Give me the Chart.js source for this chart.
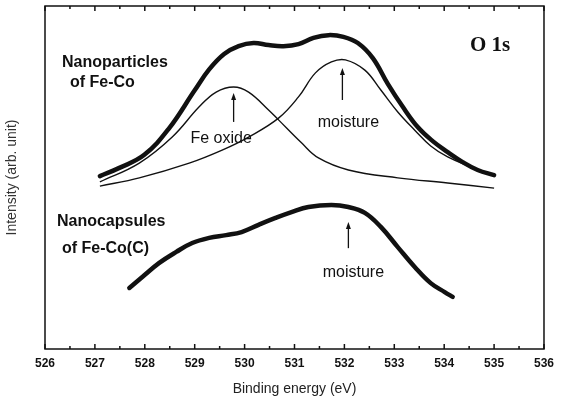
<!DOCTYPE html>
<html>
<head>
<meta charset="utf-8">
<script src="https://cdn.jsdelivr.net/npm/chart.js@4.4.1/dist/chart.umd.min.js"></script>
<style>
  html, body { margin: 0; padding: 0; background: #fff; }
  #wrap { width: 561px; height: 404px; }
</style>
</head>
<body>
<div id="wrap"><canvas id="chart" width="561" height="404"></canvas></div>
<script>
// binding energy (eV) and intensity (arb. unit, 0-100)
const xTicks = [526, 527, 528, 529, 530, 531, 532, 533, 534, 535, 536];

const totalEnergy = [527.10, 527.49, 527.99, 528.49, 528.99, 529.29, 529.59, 529.88, 530.18, 530.48, 530.78, 531.08, 531.38, 531.68, 531.98, 532.27, 532.57, 532.87, 533.17, 533.47, 533.77, 534.07, 534.37, 534.67, 535.00];
const totalIntensity = [50.4, 52.8, 56.6, 64.4, 75.2, 81.5, 86.0, 88.3, 89.2, 88.6, 88.3, 88.9, 90.7, 91.5, 91.0, 89.2, 84.8, 77.3, 70.6, 64.7, 60.6, 57.4, 54.5, 52.2, 50.7];

const oxideEnergy = [527.10, 527.89, 528.55, 529.09, 529.43, 529.78, 530.08, 530.48, 530.68, 531.14, 531.48, 532.08, 533.07, 534.07, 535.00];
const oxideIntensity = [48.7, 54.2, 61.8, 70.6, 74.9, 76.4, 74.9, 69.7, 66.8, 60.1, 55.7, 52.2, 49.9, 48.4, 46.9];

const moistEnergy = [527.10, 527.89, 528.89, 529.55, 530.08, 530.68, 531.08, 531.42, 531.74, 532.02, 532.41, 532.73, 533.07, 533.41, 533.73, 534.07, 534.53, 535.00];
const moistIntensity = [47.5, 49.9, 54.2, 58.0, 61.8, 67.3, 73.5, 80.5, 83.7, 84.3, 81.3, 75.5, 69.1, 63.8, 59.2, 56.0, 53.1, 50.4];

const capsEnergy = [527.69, 527.95, 528.29, 528.63, 528.95, 529.29, 529.63, 529.94, 530.28, 530.62, 530.94, 531.28, 531.74, 532.08, 532.41, 532.73, 533.07, 533.41, 533.73, 534.01, 534.17];
const capsIntensity = [17.8, 21.0, 25.1, 28.3, 30.9, 32.4, 33.2, 34.1, 36.2, 38.2, 39.9, 41.4, 42.0, 41.4, 39.7, 35.6, 29.7, 23.9, 19.2, 16.6, 15.2];

// labels and arrows, placed in data units
const sansBold = 'bold 16px "Liberation Sans", Arial, sans-serif';
const sans = '16px "Liberation Sans", Arial, sans-serif';
const notes = [
  { text: 'Nanoparticles', x: 526.34, y: 83.4, align: 'left', font: sansBold },
  { text: 'of Fe-Co', x: 526.50, y: 77.6, align: 'left', font: sansBold },
  { text: 'Nanocapsules', x: 526.24, y: 37.0, align: 'left', font: sansBold },
  { text: 'of Fe-Co(C)', x: 526.34, y: 29.2, align: 'left', font: sansBold },
  { text: 'O 1s', x: 534.92, y: 88.6, align: 'center', font: 'bold 21px "Liberation Serif", "Times New Roman", serif' },
  { text: 'Fe oxide', x: 529.53, y: 61.2, align: 'center', font: sans },
  { text: 'moisture', x: 532.08, y: 65.9, align: 'center', font: sans },
  { text: 'moisture', x: 532.18, y: 22.4, align: 'center', font: sans }
];
const arrows = [
  { x: 529.78, from: 66.2, to: 74.6 },
  { x: 531.96, from: 72.6, to: 81.9 },
  { x: 532.08, from: 29.4, to: 37.0 }
];

function pts(xs, ys) {
  return xs.map((x, i) => ({ x: x, y: ys[i] }));
}

Chart.defaults.font.family = '"Liberation Sans", Arial, sans-serif';
Chart.defaults.color = '#111';

const decor = {
  id: 'decor',
  afterDraw(chart) {
    const ctx = chart.ctx;
    const a = chart.chartArea;
    const xs = chart.scales.x;
    const ys = chart.scales.y;
    ctx.save();
    ctx.strokeStyle = '#111';
    // frame
    ctx.lineWidth = 1.5;
    ctx.strokeRect(a.left, a.top, a.right - a.left, a.bottom - a.top);
    // inward ticks, top and bottom
    for (let v = xTicks[0]; v <= xTicks[xTicks.length - 1]; v += 0.5) {
      const px = xs.getPixelForValue(v);
      const len = Number.isInteger(v) ? 5 : 3;
      ctx.beginPath();
      ctx.moveTo(px, a.bottom);
      ctx.lineTo(px, a.bottom - len);
      ctx.moveTo(px, a.top);
      ctx.lineTo(px, a.top + len);
      ctx.stroke();
    }
    // arrows
    ctx.fillStyle = '#111';
    ctx.lineWidth = 1.3;
    arrows.forEach(ar => {
      const px = xs.getPixelForValue(ar.x);
      const y0 = ys.getPixelForValue(ar.from);
      const y1 = ys.getPixelForValue(ar.to);
      ctx.beginPath();
      ctx.moveTo(px, y0);
      ctx.lineTo(px, y1 + 5);
      ctx.stroke();
      ctx.beginPath();
      ctx.moveTo(px, y1);
      ctx.lineTo(px - 2.5, y1 + 7);
      ctx.lineTo(px + 2.5, y1 + 7);
      ctx.closePath();
      ctx.fill();
    });
    // text
    ctx.textBaseline = 'middle';
    notes.forEach(n => {
      ctx.font = n.font;
      ctx.textAlign = n.align;
      ctx.fillText(n.text, xs.getPixelForValue(n.x), ys.getPixelForValue(n.y));
    });
    ctx.restore();
  }
};

const thin = { borderColor: '#111', borderWidth: 1.4, pointRadius: 0, fill: false, tension: 0.4 };
const thick = { borderColor: '#111', borderWidth: 4.5, pointRadius: 0, fill: false, tension: 0.4, borderCapStyle: 'round' };

new Chart(document.getElementById('chart'), {
  type: 'line',
  data: {
    datasets: [
      Object.assign({ label: 'Fe oxide', data: pts(oxideEnergy, oxideIntensity) }, thin),
      Object.assign({ label: 'moisture', data: pts(moistEnergy, moistIntensity) }, thin),
      Object.assign({ label: 'Nanoparticles of Fe-Co', data: pts(totalEnergy, totalIntensity) }, thick),
      Object.assign({ label: 'Nanocapsules of Fe-Co(C)', data: pts(capsEnergy, capsIntensity) }, thick)
    ]
  },
  options: {
    responsive: false,
    animation: false,
    layout: { padding: { top: 6, right: 14, left: 0, bottom: 0 } },
    plugins: { legend: { display: false }, tooltip: { enabled: false } },
    scales: {
      x: {
        type: 'linear',
        min: 526,
        max: 536,
        afterBuildTicks: s => { s.ticks = xTicks.map(v => ({ value: v })); },
        afterFit: s => { s.height = 55; },
        grid: { display: false, drawTicks: false },
        border: { display: false },
        ticks: { padding: 7, font: { size: 12, weight: 'bold' }, color: '#111', maxRotation: 0 },
        title: { display: true, text: 'Binding energy (eV)', font: { size: 14 }, color: '#222', padding: { top: 6, bottom: 6 } }
      },
      y: {
        min: 0,
        max: 100,
        afterFit: s => { s.width = 45; },
        grid: { display: false, drawTicks: false },
        border: { display: false },
        ticks: { display: false },
        title: { display: true, text: 'Intensity (arb. unit)', font: { size: 14 }, color: '#333', padding: { top: 4, bottom: 4 } }
      }
    }
  },
  plugins: [decor]
});
</script>
</body>
</html>
